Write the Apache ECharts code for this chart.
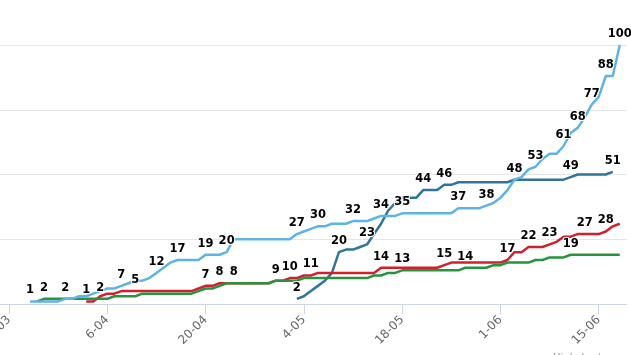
<!DOCTYPE html>
<html>
<head>
<meta charset="utf-8">
<script src="https://cdn.jsdelivr.net/npm/echarts@6/dist/echarts.min.js"></script>
<style>
  html, body { margin: 0; padding: 0; background: #ffffff; }
  #chart { width: 631px; height: 355px; }
</style>
</head>
<body>
<div id="chart"></div>
<script>
// ---- Data (cumulative counts per day) ----
const firstDate = '2020-03-09';   // first day of the x axis
const dayCount = 103;             // 9-03 .. 19-06
const tickEveryDays = 14;         // tick labels: 9-03, 23-03, 6-04, 20-04, 4-05, 18-05, 1-06, 15-06

const lightBlueStart = '26-03';
const lightBlueValues = [1,1,1,1,1, 2,2,3,3,4, 5,6,6,7,8, 9,9,10,12,14, 16,17,17,17,17,
  19,19,19,20,25, 25,25,25,25,25, 25,25,25,27,28, 29,30,30,31,31, 31,32,32,32,33,
  34,34,34,35,35, 35,35,35,35,35, 35,37,37,37,37, 38,39,41,44,48, 49,52,53,56,58,
  58,61,66,68,72, 77,80,88,88,100];
const lightBlueLabels = ['26-03','8-04','13-04','16-04','20-04','23-04','3-05','6-05','11-05',
  '15-05','18-05','26-05','30-05','6-06','10-06','12-06','14-06','16-06','18-06'];

const darkBlueStart = '3-05';
const darkBlueValues = [2,3,5,7,9, 12,20,21,21,22, 23,27,31,36,39, 41,41,41,44,44,
  44,46,46,47,47, 47,47,47,47,47, 47,48,48,48,48, 48,48,48,48,49, 50,50,50,50,50, 51];
const darkBlueLabels = ['3-05','9-05','13-05','21-05','24-05','3-06','11-06','17-06'];

const redStart = '3-04';
const redValues = [1,1,3,4,4, 5,5,5,5,5, 5,5,5,5,5, 5,6,7,7,8, 8,8,8,8,8, 8,8,9,9,10,
  10,11,11,12,12, 12,12,12,12,12, 12,12,14,14,14, 14,14,14,14,14, 14,15,16,16,16,
  16,16,16,16,16, 17,20,20,22,22, 22,23,24,26,26, 27,27,27,27,28, 30,31];
const redLabels = ['3-04','10-04','20-04','22-04','24-04','30-04','2-05','5-05','15-05',
  '24-05','2-06','5-06','8-06','13-06','16-06'];

const greenStart = '27-03';
const greenValues = [1,2,2,2,2, 2,2,2,2,2, 2,3,3,3,3, 4,4,4,4,4, 4,4,4,5,6, 6,7,8,8,8,
  8,8,8,8,9, 9,9,9,10,10, 10,10,10,10,10, 10,10,10,11,11, 12,12,13,13,13, 13,13,13,13,13,
  13,14,14,14,14, 15,15,16,16,16, 16,17,17,18,18, 18,19,19,19,19, 19,19,19,19];
const greenLabels = ['28-03','31-03','5-04','18-05','27-05','11-06'];

// ---- Build category axis ----
const categories = [];
(function () {
  const p = firstDate.split('-').map(Number);
  for (let i = 0; i < dayCount; i++) {
    const d = new Date(Date.UTC(p[0], p[1] - 1, p[2] + i));
    const mm = String(d.getUTCMonth() + 1).padStart(2, '0');
    categories.push(d.getUTCDate() + '-' + mm);
  }
})();

function buildSeriesData(start, values, labels) {
  const out = categories.map(() => null);
  const s = categories.indexOf(start);
  values.forEach((v, i) => {
    const cat = categories[s + i];
    if (labels.indexOf(cat) >= 0) {
      out[s + i] = { value: v, label: { show: true } };
    } else {
      out[s + i] = v;
    }
  });
  return out;
}

const labelStyle = {
  show: false,
  position: 'top',
  distance: 5,
  color: '#000000',
  fontFamily: 'DejaVu Sans',
  fontWeight: 'bold',
  fontSize: 11.5,
  textBorderColor: '#ffffff',
  textBorderWidth: 2
};

function lineSeries(name, color, data) {
  return {
    name: name,
    type: 'line',
    data: data,
    symbol: 'circle',
    symbolSize: 0,
    showSymbol: true,
    showAllSymbol: true,
    connectNulls: false,
    lineStyle: { color: color, width: 2.5 },
    itemStyle: { color: color },
    label: labelStyle,
    emphasis: { disabled: true }
  };
}

const chart = echarts.init(document.getElementById('chart'), null, { renderer: 'canvas' });
chart.setOption({
  animation: false,
  backgroundColor: '#ffffff',
  grid: {
    left: -89.3,
    right: 4.2,
    top: -19.75,
    bottom: 51,
    containLabel: false,
    outerBoundsMode: 'none'
  },
  xAxis: {
    type: 'category',
    data: categories,
    boundaryGap: false,
    axisLine: { show: true, lineStyle: { color: '#ccd6eb', width: 1 } },
    axisTick: { show: true, interval: tickEveryDays - 1, length: 10, lineStyle: { color: '#ccd6eb' } },
    axisLabel: {
      interval: tickEveryDays - 1,
      rotate: 45,
      margin: 14,
      color: '#666666',
      fontFamily: 'DejaVu Sans',
      fontSize: 12
    },
    splitLine: { show: false }
  },
  yAxis: {
    type: 'value',
    min: 0,
    max: 125,
    interval: 25,
    axisLabel: { show: false },
    axisLine: { show: false },
    axisTick: { show: false },
    splitLine: { show: true, lineStyle: { color: '#e6e6e6', width: 1 } }
  },
  graphic: [{
    type: 'text',
    left: 553,
    top: 353,
    style: { text: 'Highcharts.com', fill: '#999999', fontSize: 10, fontFamily: 'DejaVu Sans' }
  }],
  series: [
    lineSeries('Série 1', '#2f7599', buildSeriesData(darkBlueStart, darkBlueValues, darkBlueLabels)),
    lineSeries('Série 2', '#d0202e', buildSeriesData(redStart, redValues, redLabels)),
    lineSeries('Série 3', '#26933f', buildSeriesData(greenStart, greenValues, greenLabels)),
    lineSeries('Série 4', '#5cb3e4', buildSeriesData(lightBlueStart, lightBlueValues, lightBlueLabels))
  ]
});
</script>
</body>
</html>
